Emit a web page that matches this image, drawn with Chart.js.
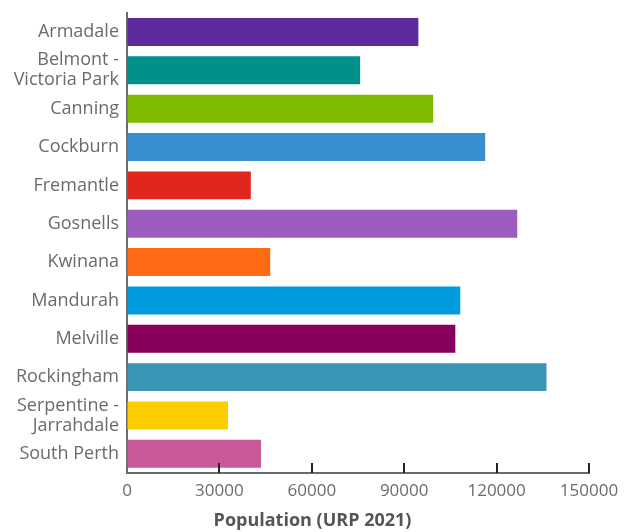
<!DOCTYPE html>
<html>
<head>
<meta charset="utf-8">
<script src="https://cdn.jsdelivr.net/npm/chart.js@4/dist/chart.umd.min.js"></script>
<style>
  html, body { margin: 0; padding: 0; background: #fff; }
  #wrap { width: 625px; height: 532px; }
</style>
</head>
<body>
<div id="wrap"><canvas id="chartPop"></canvas></div>
<script>
// LGA populations, URP 2021
let lgas = ['Armadale', ['Belmont -', 'Victoria Park'], 'Canning', 'Cockburn', 'Fremantle', 'Gosnells',
            'Kwinana', 'Mandurah', 'Melville', 'Rockingham', ['Serpentine -', 'Jarrahdale'], 'South Perth'];
let population = [94600, 75700, 99400, 116300, 40200, 126700, 46500, 108200, 106600, 136200, 32800, 43500];
let barColors = ['#5e2a9c', '#00918d', '#7fba00', '#398ece', '#e0271d', '#9d5dc0',
                 '#ff6a13', '#009bdd', '#87005e', '#3a96b4', '#ffcc00', '#c85898'];
let xTicks = [0, 30000, 60000, 90000, 120000, 150000];

Chart.defaults.font.family = '"Open Sans", Lato, sans-serif';
Chart.defaults.color = '#6b6b6b';

// tick marks on the x axis point up into the plot
let innerTicks = {
    id: 'innerTicks',
    afterDraw(chart) {
        let sc = chart.scales.x;
        let c = chart.ctx;
        let y0 = chart.chartArea.bottom;
        c.save();
        c.strokeStyle = '#222';
        c.lineWidth = 2;
        for (let j = 1; j < xTicks.length; j++) {
            let px = Math.round(sc.getPixelForValue(xTicks[j]));
            c.beginPath();
            c.moveTo(px, y0);
            c.lineTo(px, y0 - 10);
            c.stroke();
        }
        c.restore();
    }
};

let ctx = document.getElementById('chartPop').getContext('2d');
let chart = new Chart(ctx, {
    type: 'bar',
    data: {
        labels: lgas,
        datasets: [{
            label: 'Population',
            data: population,
            backgroundColor: barColors,
            borderWidth: 0,
            categoryPercentage: 0.8,
            barPercentage: 0.91,
        }],
    },
    options: {
        indexAxis: 'y',
        responsive: true,
        maintainAspectRatio: false,
        animation: false,
        layout: { padding: 0 },
        plugins: {
            legend: { display: false },
            tooltip: { enabled: false },
            title: {
                display: true,
                position: 'bottom',
                text: 'Population (URP 2021)',
                color: '#555',
                font: { size: 18, weight: 'bold', lineHeight: 1.2 },
                padding: { top: 7, bottom: 0 },
            },
        },
        scales: {
            x: {
                min: 0,
                max: 150000,
                afterBuildTicks: (sc) => { sc.ticks = xTicks.map(v => ({ value: v })); },
                afterFit: (sc) => {
                    sc.height = 30.4;
                    sc.paddingLeft = 0;
                    sc.paddingRight = 36;
                },
                grid: { display: true, drawOnChartArea: false, drawTicks: false },
                border: { display: true, color: '#6b6b6b', width: 2 },
                ticks: {
                    padding: 8,
                    font: { size: 17 },
                    color: '#6b6b6b',
                    maxRotation: 0,
                    callback: (v) => String(v),
                },
            },
            y: {
                afterFit: (sc) => {
                    sc.width = 127;
                    sc.paddingTop = 12.8;
                    sc.paddingBottom = 0;
                },
                grid: { display: false, drawTicks: false },
                border: { display: true, color: '#6b6b6b', width: 2 },
                ticks: {
                    padding: 8,
                    autoSkip: false,
                    font: { size: 18, lineHeight: 1.11 },
                    color: '#6b6b6b',
                },
            },
        },
    },
    plugins: [innerTicks],
});
</script>
</body>
</html>
